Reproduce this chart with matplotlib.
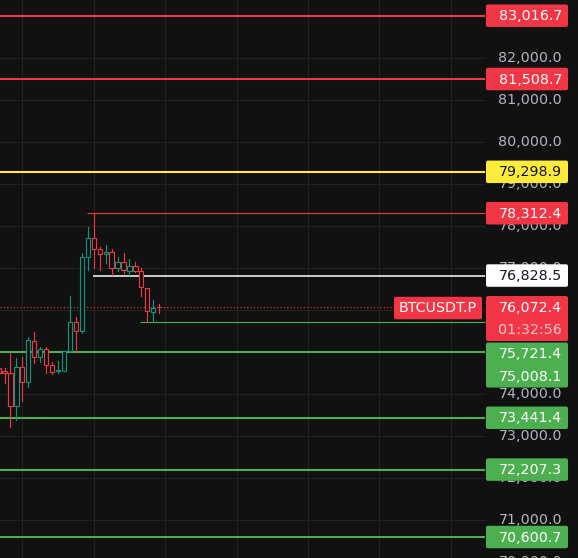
import matplotlib.pyplot as plt
from matplotlib.patches import Rectangle, FancyBboxPatch

# candles, oldest first (the first one is cut by the left edge)
opens = [74634, 74556, 74508, 73722, 74651, 74293, 75277, 74889, 75079, 74698,
         74563, 74563, 75032, 75722, 75508, 77270, 77723, 77461, 77342, 77389,
         77008, 77151, 76937, 77063, 76937, 76532, 75968, 76090]
highs = [74650, 74634, 74991, 74872, 74896, 75372, 75491, 75134, 75120, 74777,
         74793, 75040, 76342, 75848, 77366, 77985, 78312.4, 77509, 77556, 77461,
         77278, 77366, 77223, 77151, 77008, 76540, 76246, 76151]
lows = [74500, 74270, 73229, 73389, 73841, 74182, 74746, 74777, 74508, 74484,
        74515, 74550, 75008, 75008, 75460, 76961, 77008, 76961, 77128, 76842,
        76937, 76889, 76842, 76913, 76342, 75721.4, 75722, 75937]
closes = [74515, 74510, 73722, 74651, 74293, 75293, 74889, 75079, 74698, 74539,
          74579, 75032, 75722, 75515, 77270, 77723, 77461, 77342, 77397, 77008,
          77151, 76961, 77063, 76937, 76563, 75984, 76056, 76072.4]

# horizontal levels drawn on the chart
levels = [83016.7, 81508.7, 79298.9, 78312.4, 76828.5, 75721.4, 75008.1, 73441.4, 72207.3, 70600.7]
level_colors = ["#f23645", "#f23645", "#ffeb3b", "#f23645", "#ffffff",
                "#4caf50", "#4caf50", "#4caf50", "#4caf50", "#4caf50"]
level_starts = [None, None, None, 14, 15, 23, None, None, None, None]  # candle where a ray starts
level_widths = [1.5, 1.5, 1.5, 0.8, 1.1, 0.8, 1.5, 1.5, 1.5, 1.5]

tick_prices = list(range(70000, 84000, 1000))

last_price = 76072.4
countdown = "01:32:56"
symbol = "BTCUSDT.P"

W, H = 578, 558
bg = "#111111"
grid = "#222222"
up = "#089981"
down = "#f23645"

# pixel geometry: candle i sits at 4.5 + 5.95 * i
step = 5.95
x_first = 4.5


def to_x(px):
    return (px - x_first) / step


y_top, y_bot = 83390.6, 70101.7
scale_left = 485  # where the price scale starts

fig = plt.figure(figsize=(W / 100, H / 100), dpi=100, facecolor=bg)
ax = fig.add_axes([0, 0, 1, 1])
ax.set_xlim(to_x(0), to_x(W))
ax.set_ylim(y_bot, y_top)
ax.axis("off")

# grid
for p in tick_prices:
    ax.plot([to_x(0), to_x(scale_left)], [p, p], color=grid, lw=0.75, zorder=0)
for i in range(3, 80, 12):
    ax.axvline(i, color=grid, lw=0.75, zorder=0)

# hollow candles
for k, (o, h, l, c) in enumerate(zip(opens, highs, lows, closes)):
    x = k - 1
    col = up if c >= o else down
    top, bot = max(o, c), min(o, c)
    ax.plot([x, x], [top, h], color=col, lw=0.8, zorder=2)
    ax.plot([x, x], [l, bot], color=col, lw=0.8, zorder=2)
    ax.add_patch(Rectangle((x - 0.36, bot), 0.72, max(top - bot, 15),
                           facecolor=bg, edgecolor=col, lw=0.8, zorder=3))

# levels
for p, col, st, lw in zip(levels, level_colors, level_starts, level_widths):
    x0 = to_x(0) if st is None else st - 0.15
    ax.plot([x0, to_x(scale_left)], [p, p], color=col, lw=lw,
            solid_capstyle="butt", zorder=1)

# last price dotted line
ax.plot([to_x(0), to_x(394)], [last_price, last_price], color=down, lw=0.8,
        linestyle=(0, (1, 2)), zorder=1)

# overlay in pixels for the price scale labels
lab = fig.add_axes([0, 0, 1, 1])
lab.set_xlim(0, W)
lab.set_ylim(H, 0)
lab.axis("off")


def py(p):
    return (y_top - p) / (y_top - y_bot) * H


for p in tick_prices:
    lab.text(562, py(p), f"{p:,.1f}", ha="right", va="center",
             color="#b2b5be", fontsize=10.3, zorder=1)


def box(x0, y0, x1, y1, color):
    lab.add_patch(FancyBboxPatch((x0, y0), x1 - x0, y1 - y0,
                                 boxstyle="round,pad=0,rounding_size=2",
                                 fc=color, ec="none", zorder=2))


# price tags, pushed down when they would overlap
tags = []
for p, col in zip(levels, level_colors):
    tags.append((py(p), [f"{p:,.1f}"], col))
tags.append((py(last_price), [f"{last_price:,.1f}", countdown], down))
tags.sort(key=lambda t: t[0])

row_h = 22.5
groups = []  # touching tags of one colour share a box
prev_bottom, prev_col = -100, None
for yc, rows, col in tags:
    top = yc - row_h / 2
    gap = 1.5 if col != prev_col else 0
    if top < prev_bottom + gap:
        top = prev_bottom + gap
    bottom = top + row_h * len(rows)
    if col == prev_col and abs(top - prev_bottom) < 0.01:
        groups[-1][1] = bottom
    else:
        groups.append([top, bottom, col])
    txt_col = "#131722" if col in ("#ffeb3b", "#ffffff") else "white"
    for r, s in enumerate(rows):
        c = txt_col if r == 0 else "#f9c5cb"
        lab.text(562, top + row_h * (r + 0.5) + 0.5, s, ha="right", va="center",
                 color=c, fontsize=10.3, zorder=3)
    prev_bottom, prev_col = bottom, col

for top, bottom, col in groups:
    box(486, top, 568, bottom, col)

# symbol tag next to the last price
yl = py(last_price)
box(394, yl - 10.5, 482, yl + 12, down)
lab.text(438, yl + 1, symbol, ha="center", va="center", color="white",
         fontsize=10.3, zorder=3)

fig.savefig("out.png", dpi=100, facecolor=bg)
